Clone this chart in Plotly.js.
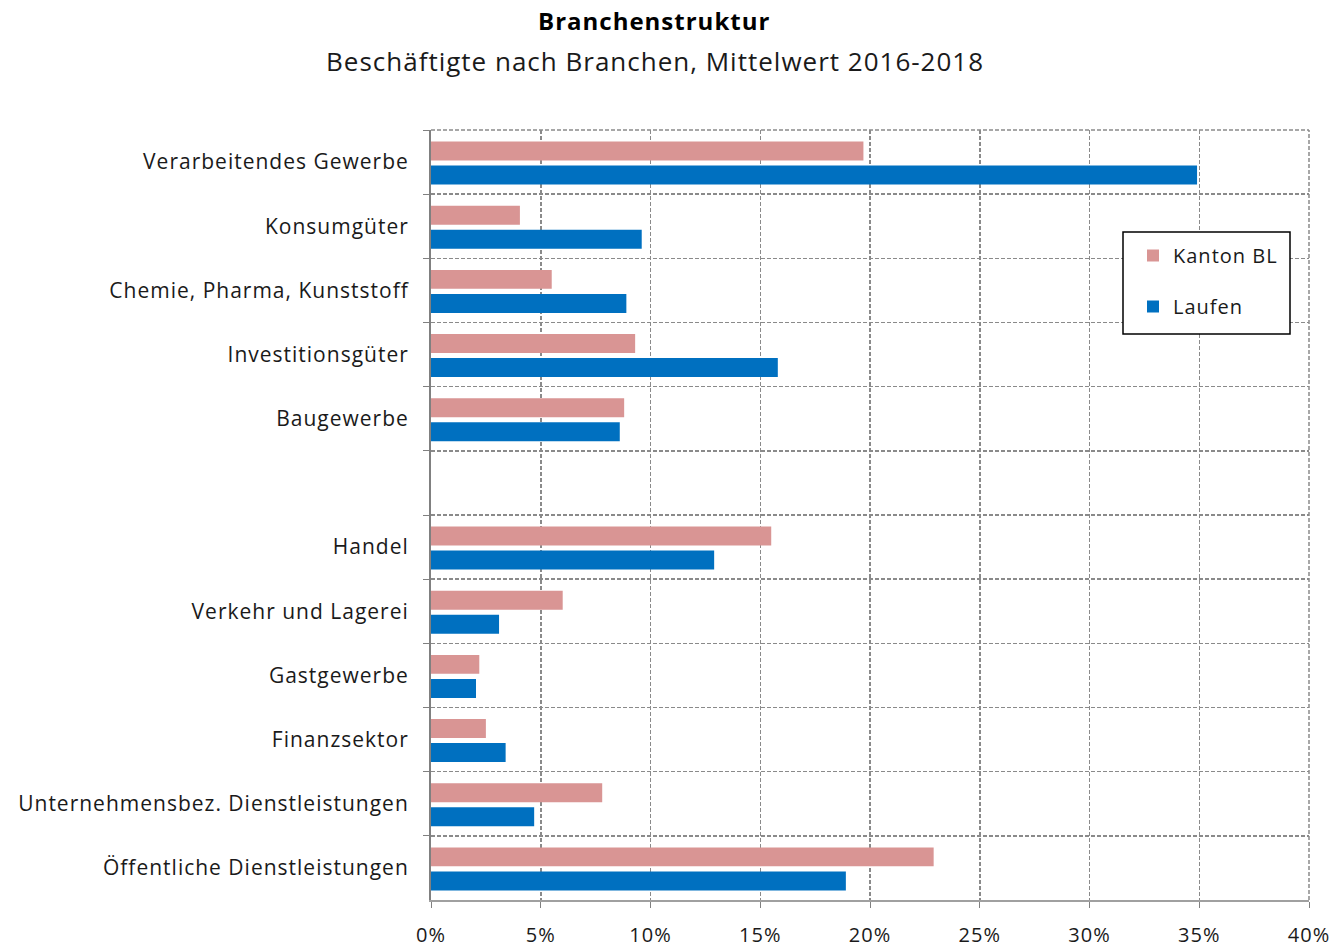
<!DOCTYPE html>
<html>
<head>
<meta charset="utf-8">
<script src="https://cdn.plot.ly/plotly-3.0.1.min.js"></script>
<style>
  body { margin: 0; background: #fff; }
  #chart { width: 1338px; height: 947px; }
  svg text { letter-spacing: 1px; }
</style>
</head>
<body>
<div id="chart"></div>
<script>
var branchen = [
  'Verarbeitendes Gewerbe',
  'Konsumgüter',
  'Chemie, Pharma, Kunststoff',
  'Investitionsgüter',
  'Baugewerbe',
  ' ',
  'Handel',
  'Verkehr und Lagerei',
  'Gastgewerbe',
  'Finanzsektor',
  'Unternehmensbez. Dienstleistungen',
  'Öffentliche Dienstleistungen'
];

// Anteile der Beschäftigten (Mittelwert 2016-2018)
var kantonBL = [0.197, 0.0405, 0.055, 0.093, 0.088, null, 0.155, 0.060, 0.022, 0.025, 0.078, 0.229];
var laufen   = [0.349, 0.096, 0.089, 0.158, 0.086, null, 0.129, 0.031, 0.0205, 0.034, 0.047, 0.189];

var font = 'Open Sans, Lato, sans-serif';
var gridDash = '4px,2px';

var kanton = {
  y: branchen,
  x: kantonBL,
  name: 'Kanton BL',
  type: 'bar',
  orientation: 'h',
  legendgroup: 'a',
  width: 0.295,
  offset: -0.32,
  marker: {color: '#D99594'},
  hoverinfo: 'x+name'
};

var lauf = {
  y: branchen,
  x: laufen,
  name: 'Laufen',
  type: 'bar',
  orientation: 'h',
  legendgroup: 'b',
  width: 0.295,
  offset: 0.055,
  marker: {color: '#0070C0'},
  hoverinfo: 'x+name'
};

// plot area in pixels: x 431..1309, y 130..900
var W = 1309 - 431, H = 900 - 130;
function px(x) { return (x - 431) / W; }
function py(y) { return (900 - y) / H; }

var layout = {
  width: 1338,
  height: 947,
  margin: {l: 431, r: 29, t: 130, b: 47},
  paper_bgcolor: '#fff',
  plot_bgcolor: '#fff',
  font: {family: font, size: 20, color: '#1a1a1a'},
  barmode: 'overlay',
  showlegend: true,
  legend: {
    x: px(1133), y: py(236), xanchor: 'left', yanchor: 'top',
    borderwidth: 0, bgcolor: 'rgba(0,0,0,0)',
    font: {size: 20, family: font},
    traceorder: 'grouped',
    tracegroupgap: 22
  },
  xaxis: {
    range: [0, 0.4],
    dtick: 0.05,
    tickformat: '.0%',
    showgrid: true,
    gridcolor: '#8a8a8a',
    griddash: gridDash,
    gridwidth: 1.5,
    zeroline: false,
    showline: true,
    linecolor: '#a0a0a0',
    linewidth: 2,
    ticks: 'outside',
    ticklen: 6,
    tickcolor: '#808080',
    ticklabelstandoff: 10,
    tickfont: {size: 20},
    fixedrange: true
  },
  yaxis: {
    type: 'category',
    autorange: 'reversed',
    tickson: 'boundaries',
    showgrid: true,
    gridcolor: '#8a8a8a',
    griddash: gridDash,
    gridwidth: 1.5,
    showline: true,
    linecolor: '#808080',
    linewidth: 2,
    ticks: 'outside',
    ticklen: 6,
    tickcolor: '#808080',
    ticklabelstandoff: 16,
    tickfont: {size: 21},
    fixedrange: true
  },
  shapes: [
    {type: 'line', xref: 'paper', yref: 'paper', x0: 0, x1: 1, y0: 1, y1: 1,
     line: {color: '#8a8a8a', width: 1.5, dash: gridDash}},
    {type: 'line', xref: 'paper', yref: 'paper', x0: 1, x1: 1, y0: 0, y1: 1,
     line: {color: '#8a8a8a', width: 1.5, dash: gridDash}},
    // white legend background, then its frame
    {type: 'rect', xref: 'paper', yref: 'paper', layer: 'above',
     x0: px(1123), x1: px(1290), y0: py(334), y1: py(232),
     fillcolor: '#fff', line: {width: 0}},
    {type: 'rect', xref: 'paper', yref: 'paper', layer: 'above',
     x0: px(1123), x1: px(1290), y0: py(334), y1: py(232),
     fillcolor: 'rgba(0,0,0,0)', line: {color: '#000', width: 1.5}}
  ],
  annotations: [
    {text: '<b>Branchenstruktur</b>', xref: 'paper', yref: 'paper',
     x: px(654), y: py(20), xanchor: 'center', yanchor: 'middle',
     showarrow: false, font: {size: 24, color: '#000', family: font}},
    {text: 'Beschäftigte nach Branchen, Mittelwert 2016-2018', xref: 'paper', yref: 'paper',
     x: px(655), y: py(61), xanchor: 'center', yanchor: 'middle',
     showarrow: false, font: {size: 26, color: '#1a1a1a', family: font}}
  ]
};

Plotly.newPlot('chart', [kanton, lauf], layout, {displayModeBar: false, staticPlot: true});
</script>
</body>
</html>
